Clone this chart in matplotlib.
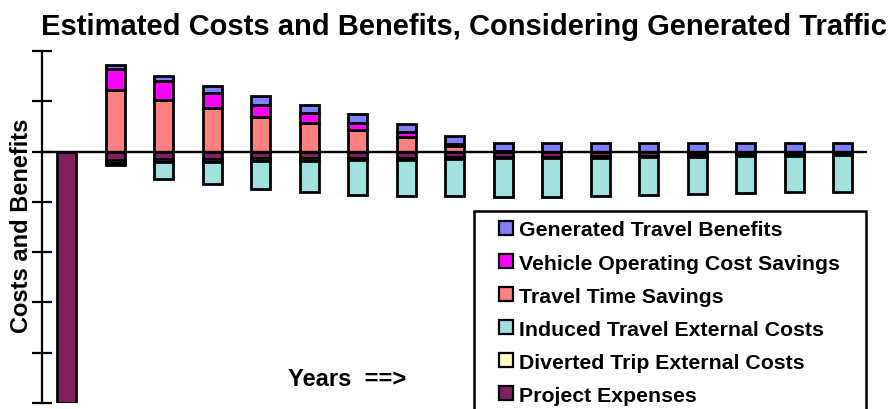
"""Estimated costs and benefits, considering generated traffic.

Stacked bars per year: benefits above zero, costs below. Values are in
tick units (the original chart has no numeric labels on the axis).
"""

import matplotlib

matplotlib.use("Agg")
import matplotlib.pyplot as plt
from matplotlib.patches import Patch, Rectangle

# --- dados (unidades = 1 tick) ---
years = list(range(17))

# beneficios (empilhados para cima, de baixo p/ cima)
travel_time_savings = [0.0, 1.22, 1.02, 0.86, 0.69, 0.56, 0.42, 0.28, 0.12,
                       0.01, 0.0, 0.0, 0.0, 0.0, 0.0, 0.0, 0.0]
vehicle_op_savings = [0.0, 0.43, 0.38, 0.31, 0.24, 0.20, 0.15, 0.10, 0.03,
                      0.0, 0.0, 0.0, 0.0, 0.0, 0.0, 0.0, 0.0]
generated_benefits = [0.0, 0.07, 0.10, 0.13, 0.17, 0.17, 0.17, 0.17, 0.16,
                      0.17, 0.17, 0.17, 0.17, 0.17, 0.17, 0.17, 0.17]

# custos (empilhados para baixo, a partir do zero)
project_expenses = [5.0, 0.16, 0.15, 0.14, 0.13, 0.13, 0.12, 0.12, 0.11,
                    0.10, 0.10, 0.09, 0.08, 0.07, 0.06, 0.06, 0.05]
diverted_costs = [0.0, 0.06, 0.06, 0.06, 0.05, 0.05, 0.05, 0.04, 0.03,
                  0.03, 0.03, 0.03, 0.03, 0.03, 0.03, 0.02, 0.02]
induced_costs = [0.0, 0.05, 0.33, 0.45, 0.57, 0.63, 0.69, 0.72, 0.75,
                 0.77, 0.77, 0.77, 0.76, 0.74, 0.73, 0.73, 0.73]

C_GENERATED = "#8080FF"
C_VEHICLE = "#FF00FF"
C_TIME = "#FF8080"
C_INDUCED = "#A2E0E0"
C_DIVERTED = "#FFFFC0"
C_PROJECT = "#802060"

W, H = 895, 410
FONT = "Liberation Sans"
BAR_W = 0.39
EDGE = 2.0

fig = plt.figure(figsize=(W / 100, H / 100), dpi=100)
fig.patch.set_facecolor("white")
ax = fig.add_axes([42.5 / W, (H - 404) / H, (867 - 42.5) / W, 352 / H])
ax.set_facecolor("none")

bar_kw = dict(width=BAR_W, edgecolor="black", linewidth=EDGE, zorder=3)

# positivos
base = [0.0] * len(years)
for vals, col in [(travel_time_savings, C_TIME),
                  (vehicle_op_savings, C_VEHICLE),
                  (generated_benefits, C_GENERATED)]:
    ax.bar(years, vals, bottom=base, color=col, **bar_kw)
    base = [b + v for b, v in zip(base, vals)]

# negativos
base = [0.0] * len(years)
for vals, col in [(project_expenses, C_PROJECT),
                  (diverted_costs, C_DIVERTED),
                  (induced_costs, C_INDUCED)]:
    neg = [-v for v in vals]
    ax.bar(years, neg, bottom=base, color=col, **bar_kw)
    base = [b + n for b, n in zip(base, neg)]

ax.axhline(0, color="black", lw=1.7, zorder=4)

ax.set_xlim(-0.5, 16.5)
ax.set_ylim(-5, 2)
ax.set_yticks(range(-5, 3))
ax.set_yticklabels([])
ax.set_xticks([])
for s in ("top", "right", "bottom"):
    ax.spines[s].set_visible(False)
ax.spines["left"].set_linewidth(1.6)
ax.tick_params(axis="y", direction="inout", length=14, width=1.6)

# textos
fig.text(464 / W, (H - 35) / H,
         "Estimated Costs and Benefits, Considering Generated Traffic",
         ha="center", va="baseline", fontsize=21, fontweight="bold",
         family=FONT)
fig.text(28 / W, (H - 226) / H, "Costs and Benefits", rotation=90,
         rotation_mode="anchor", ha="center", va="baseline",
         fontsize=17, fontweight="bold", family=FONT)
fig.text(347 / W, (H - 386.5) / H, "Years  ==>", ha="center",
         va="baseline", fontsize=17, fontweight="bold", family=FONT)

# legenda: moldura desenhada a mao (sai pela borda inferior)
fig.add_artist(Rectangle((474 / W, -0.05), (866 - 474) / W,
                         (H - 212) / H + 0.05, transform=fig.transFigure,
                         facecolor="white", edgecolor="black", lw=1.8,
                         zorder=5))
labels = ["Generated Travel Benefits", "Vehicle Operating Cost Savings",
          "Travel Time Savings", "Induced Travel External Costs",
          "Diverted Trip External Costs", "Project Expenses"]
colors = [C_GENERATED, C_VEHICLE, C_TIME, C_INDUCED, C_DIVERTED, C_PROJECT]
handles = [Patch(facecolor=c, edgecolor="black", lw=1.6) for c in colors]
leg = fig.legend(handles, labels, loc="upper left",
                 bbox_to_anchor=(499 / W, (H - 221.5) / H), frameon=False,
                 handlelength=0.66, handleheight=0.66, handletextpad=0.3,
                 labelspacing=0.66, borderpad=0, borderaxespad=0,
                 prop=dict(family=FONT, weight="bold", size=15.3))
leg.set_zorder(6)

fig.savefig("out.png", dpi=100)
